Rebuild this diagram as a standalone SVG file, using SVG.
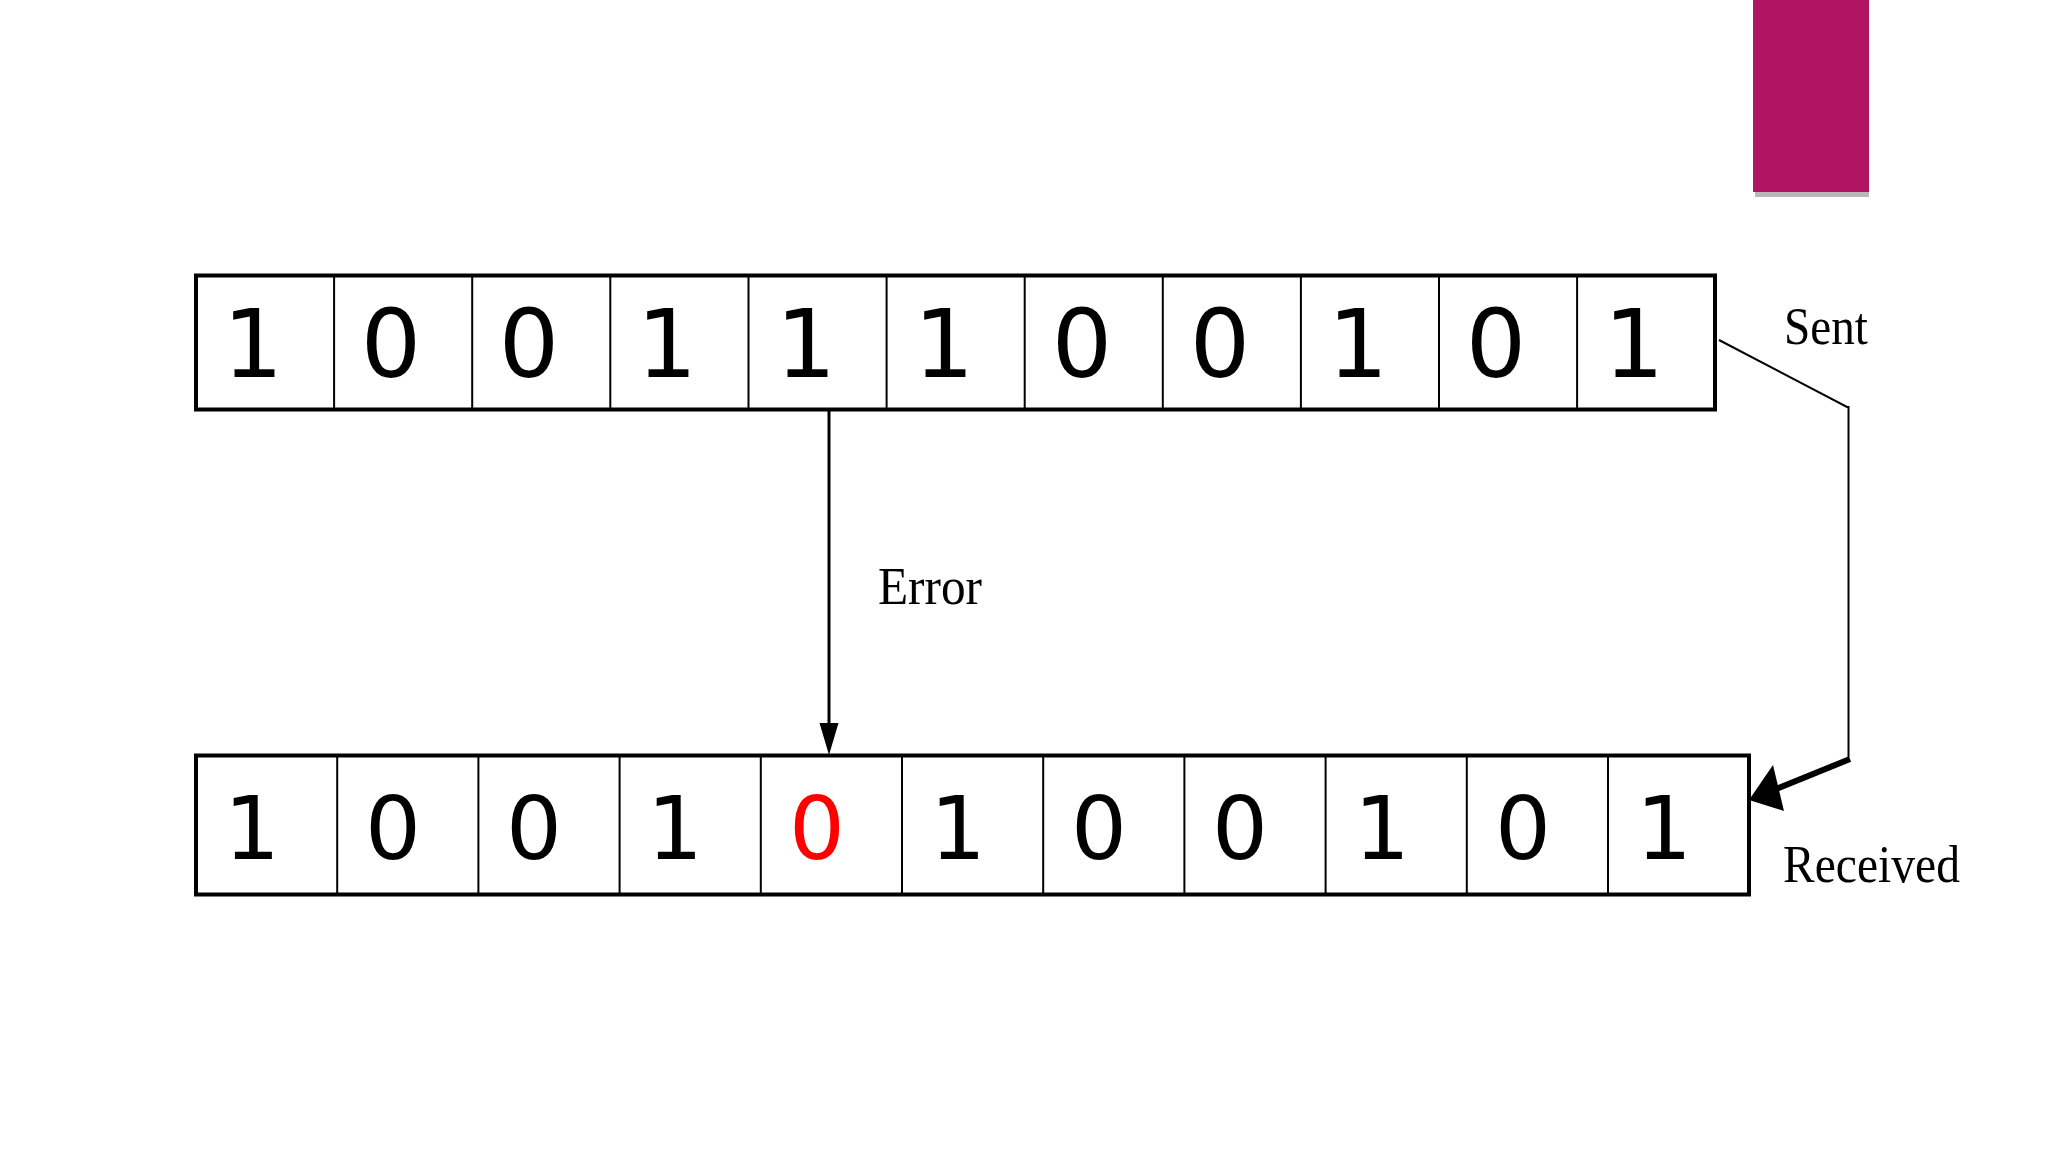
<svg xmlns="http://www.w3.org/2000/svg" width="2048" height="1152" viewBox="0 0 2048 1152">
<style>
.frame{fill:none;stroke:#000;stroke-width:4}
.div{stroke:#000;stroke-width:2}
.bit{font-family:"DejaVu Sans",sans-serif;text-anchor:middle;fill:#000}
.top .bit{font-size:95px}
.bot .bit{font-size:88px}
.lbl{font-family:"Liberation Serif",serif;font-size:52px;fill:#000}
.thin{fill:none;stroke:#000;stroke-width:2}
</style>
<rect width="2048" height="1152" fill="#fff"/>
<g id="accent">
<rect x="1755" y="191" width="114" height="6" fill="#9a9a9a" opacity="0.7"/>
<rect x="1753" y="0" width="116" height="192" fill="#b11462"/>
</g>
<g id="sent" class="top">
<rect class="frame" x="196" y="275.5" width="1519" height="134"/>
<path class="div" d="M334.1,275.5V409.5M472.2,275.5V409.5M610.3,275.5V409.5M748.5,275.5V409.5M886.6,275.5V409.5M1024.7,275.5V409.5M1162.8,275.5V409.5M1300.9,275.5V409.5M1439,275.5V409.5M1577.1,275.5V409.5"/>
<text class="bit" x="253" y="377">1</text>
<text class="bit" x="391" y="377">0</text>
<text class="bit" x="529" y="377">0</text>
<text class="bit" x="667" y="377">1</text>
<text class="bit" x="806" y="377">1</text>
<text class="bit" x="944" y="377">1</text>
<text class="bit" x="1082" y="377">0</text>
<text class="bit" x="1220" y="377">0</text>
<text class="bit" x="1358" y="377">1</text>
<text class="bit" x="1496" y="377">0</text>
<text class="bit" x="1634" y="377">1</text>
</g>
<g id="received" class="bot">
<rect class="frame" x="196" y="755.5" width="1553" height="139"/>
<path class="div" d="M337.2,755.5V894.5M478.4,755.5V894.5M619.6,755.5V894.5M760.8,755.5V894.5M902,755.5V894.5M1043.2,755.5V894.5M1184.4,755.5V894.5M1325.6,755.5V894.5M1466.8,755.5V894.5M1608,755.5V894.5"/>
<text class="bit" x="252" y="859">1</text>
<text class="bit" x="393" y="859">0</text>
<text class="bit" x="534" y="859">0</text>
<text class="bit" x="675" y="859">1</text>
<text class="bit" x="817" y="859" style="fill:#ff0000">0</text>
<text class="bit" x="958" y="859">1</text>
<text class="bit" x="1099" y="859">0</text>
<text class="bit" x="1240" y="859">0</text>
<text class="bit" x="1382" y="859">1</text>
<text class="bit" x="1523" y="859">0</text>
<text class="bit" x="1664" y="859">1</text>
</g>
<g id="labels">
<text class="lbl" x="1784" y="344" textLength="84" lengthAdjust="spacingAndGlyphs">Sent</text>
<text class="lbl" x="878" y="604" textLength="104" lengthAdjust="spacingAndGlyphs">Error</text>
<text class="lbl" x="1783" y="882" textLength="177" lengthAdjust="spacingAndGlyphs">Received</text>
</g>
<g id="connectors">
<line x1="829" y1="411" x2="829" y2="725" stroke="#000" stroke-width="3"/>
<path d="M819.5,723 L838.5,723 L829,755 Z" fill="#000"/>
<polyline class="thin" points="1719,340 1847,407 1848.5,407 1848.5,757"/>
<line x1="1850" y1="759" x2="1776" y2="789" stroke="#000" stroke-width="6"/>
<path d="M1749,800 L1773,765 L1784,811 Z" fill="#000"/>
</g>
</svg>
